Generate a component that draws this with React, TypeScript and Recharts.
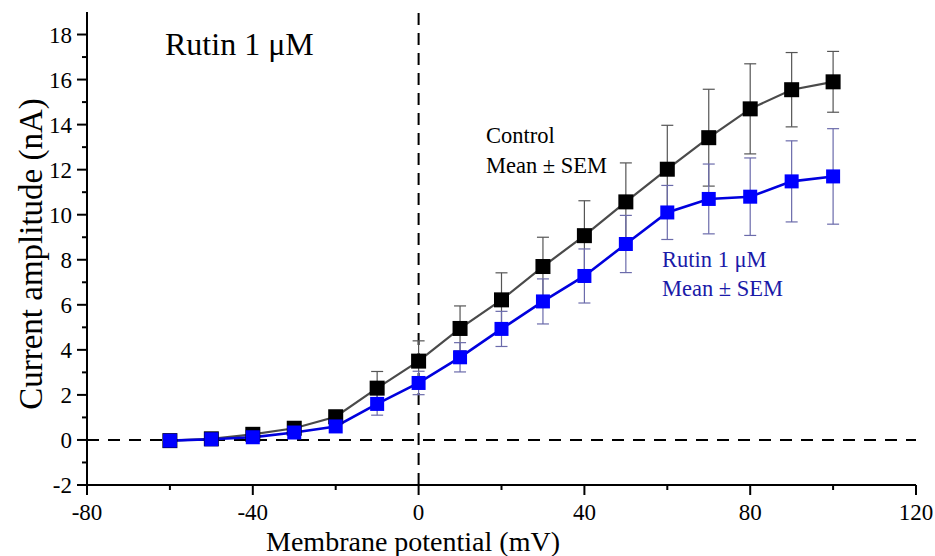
import React from "react"
import {
  LineChart, Line, XAxis, YAxis, ErrorBar, ReferenceLine, Customized,
} from "recharts"

// values
const voltages = [-60, -50, -40, -30, -20, -10, 0, 10, 20, 30, 40, 50, 60, 70, 80, 90, 100]
const controlMean = [-0.03, 0.05, 0.25, 0.52, 1.03, 2.3, 3.5, 4.95, 6.22, 7.7, 9.07, 10.57, 12.02, 13.42, 14.7, 15.55, 15.9]
const controlSem = [0.05, 0.06, 0.08, 0.12, 0.25, 0.74, 0.9, 1.0, 1.2, 1.3, 1.55, 1.73, 1.95, 2.15, 2.0, 1.65, 1.35]
const rutinMean = [-0.03, 0.03, 0.12, 0.33, 0.6, 1.6, 2.53, 3.67, 4.93, 6.15, 7.28, 8.7, 10.1, 10.7, 10.8, 11.48, 11.7]
const rutinSem = [0.05, 0.05, 0.07, 0.1, 0.2, 0.5, 0.52, 0.65, 0.78, 1.0, 1.2, 1.27, 1.2, 1.55, 1.72, 1.8, 2.12]

const xMajorTicks = [-80, -40, 0, 40, 80, 120]
const xMinorTicks = [-60, -20, 20, 60, 100]
const yMajorTicks = [-2, 0, 2, 4, 6, 8, 10, 12, 14, 16, 18]
const yMinorTicks = [-1, 1, 3, 5, 7, 9, 11, 13, 15, 17]

const FONT = "'Liberation Serif', 'Times New Roman', serif"

const data = voltages.map((v, i) => ({
  v,
  control: controlMean[i],
  controlSem: controlSem[i],
  rutin: rutinMean[i],
  rutinSem: rutinSem[i],
}))

function XTick(props: any) {
  const { x, y, payload } = props
  const major = xMajorTicks.includes(payload.value)
  return (
    <g>
      <line x1={x} x2={x} y1={y} y2={y + (major ? 10 : 5)} stroke="#000" strokeWidth={2} />
      {major && (
        <text x={x} y={y + 35} textAnchor="middle" fontSize={23} style={{ fontFamily: FONT }} fill="#000">
          {payload.value}
        </text>
      )}
    </g>
  )
}

function YTick(props: any) {
  const { x, y, payload } = props
  const major = yMajorTicks.includes(payload.value)
  return (
    <g>
      <line x1={x - (major ? 10 : 5)} x2={x} y1={y} y2={y} stroke="#000" strokeWidth={2} />
      {major && (
        <text x={x - 15} y={y + 8} textAnchor="end" fontSize={23} style={{ fontFamily: FONT }} fill="#000">
          {payload.value}
        </text>
      )}
    </g>
  )
}

const square = (size: number, fill: string) => (props: any) => (
  <rect
    key={props.index}
    x={props.cx - size / 2}
    y={props.cy - size / 2}
    width={size}
    height={size}
    fill={fill}
  />
)

function Annotations() {
  return (
    <g style={{ fontFamily: FONT }}>
      <text x={165} y={55} fontSize={32} fill="#000">Rutin 1 μM</text>
      <text x={486} y={143} fontSize={22.5} fill="#000">Control</text>
      <text x={486} y={173} fontSize={22.5} fill="#000">Mean ± SEM</text>
      <text x={662} y={267} fontSize={22.5} fill="#1a1aa8">Rutin 1 μM</text>
      <text x={662} y={296} fontSize={22.5} fill="#1a1aa8">Mean ± SEM</text>
      <text x={413} y={551} fontSize={28} textAnchor="middle" fill="#000">Membrane potential (mV)</text>
      <text
        x={42}
        y={254}
        fontSize={33}
        textAnchor="middle"
        fill="#000"
        transform="rotate(-90, 42, 254)"
      >
        Current amplitude (nA)
      </text>
    </g>
  )
}

export default function App() {
  const xTicks = [...xMajorTicks, ...xMinorTicks].sort((a, b) => a - b)
  const yTicks = [...yMajorTicks, ...yMinorTicks].sort((a, b) => a - b)

  return (
    <div style={{ position: "absolute", left: 0, top: 0, width: 935, height: 556, background: "#fff" }}>
      <LineChart width={935} height={556} data={data} margin={{ top: 12, right: 19, bottom: 0, left: 0 }}>
        <XAxis
          dataKey="v"
          type="number"
          domain={[-80, 120]}
          ticks={xTicks}
          interval={0}
          tickSize={0}
          tickMargin={0}
          tick={<XTick />}
          height={71}
          axisLine={{ stroke: "#000", strokeWidth: 2 }}
          tickLine={false}
        />
        <YAxis
          type="number"
          domain={[-2, 19]}
          ticks={yTicks}
          interval={0}
          tickSize={0}
          tickMargin={0}
          tick={<YTick />}
          width={87}
          axisLine={{ stroke: "#000", strokeWidth: 2 }}
          tickLine={false}
        />
        <ReferenceLine y={0} stroke="#000" strokeWidth={2} strokeDasharray="12 9" />
        <ReferenceLine x={0} stroke="#000" strokeWidth={2} strokeDasharray="12 8" />
        <Line
          dataKey="control"
          type="linear"
          stroke="#4a4a4a"
          strokeWidth={2.2}
          dot={square(15, "#000")}
          activeDot={false}
          isAnimationActive={false}
        >
          <ErrorBar dataKey="controlSem" width={6} stroke="#555" strokeWidth={1.2} direction="y" isAnimationActive={false} />
        </Line>
        <Line
          dataKey="rutin"
          type="linear"
          stroke="#0000dd"
          strokeWidth={2.6}
          dot={square(14, "#0000ff")}
          activeDot={false}
          isAnimationActive={false}
        >
          <ErrorBar dataKey="rutinSem" width={6} stroke="#6b6bab" strokeWidth={1.2} direction="y" isAnimationActive={false} />
        </Line>
        <Customized component={Annotations} />
      </LineChart>
    </div>
  )
}
